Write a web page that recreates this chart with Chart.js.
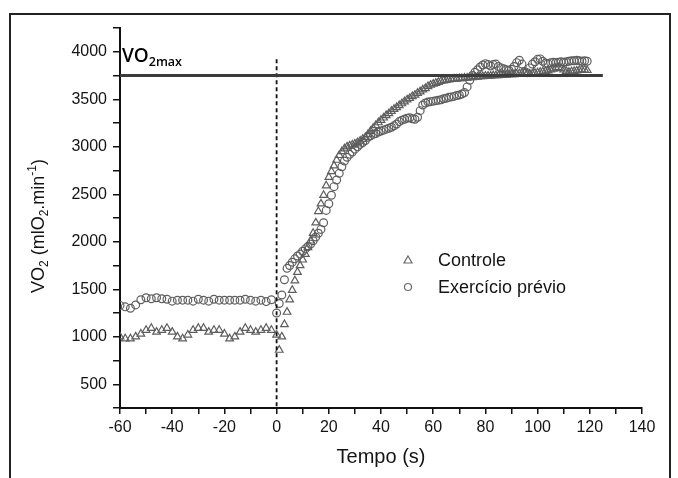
<!DOCTYPE html>
<html>
<head>
<meta charset="utf-8">
<script src="https://cdn.jsdelivr.net/npm/chart.js@4.4.0/dist/chart.umd.min.js"></script>
<style>
  html, body { margin: 0; padding: 0; background: #fff; }
  #wrap { position: relative; width: 678px; height: 478px; overflow: hidden; }
  #frame { position: absolute; left: 9px; top: 13px; width: 662px; height: 490px; border: 2px solid #222; box-sizing: border-box; }
  canvas { position: absolute; left: 0; top: 0; }
</style>
</head>
<body>
<div id="wrap">
  <div id="frame"></div>
  <canvas id="chart" width="678" height="478"></canvas>
</div>
<script>
// tempo (s) antes do exercício, amostras a cada 2 s
const tempoPre = [-60, -58, -56, -54, -52, -50, -48, -46, -44, -42, -40, -38, -36, -34, -32,
  -30, -28, -26, -24, -22, -20, -18, -16, -14, -12, -10, -8, -6, -4, -2];

// tempo (s) depois do início, amostras a cada 1 s
const tempoPos = [0, 1, 2, 3, 4, 5, 6, 7, 8, 9, 10, 11, 12, 13, 14, 15, 16, 17, 18, 19,
  20, 21, 22, 23, 24, 25, 26, 27, 28, 29, 30, 31, 32, 33, 34, 35, 36, 37, 38, 39,
  40, 41, 42, 43, 44, 45, 46, 47, 48, 49, 50, 51, 52, 53, 54, 55, 56, 57, 58, 59,
  60, 61, 62, 63, 64, 65, 66, 67, 68, 69, 70, 71, 72, 73, 74, 75, 76, 77, 78, 79,
  80, 81, 82, 83, 84, 85, 86, 87, 88, 89, 90, 91, 92, 93, 94, 95, 96, 97, 98, 99,
  100, 101, 102, 103, 104, 105, 106, 107, 108, 109, 110, 111, 112, 113, 114, 115, 116, 117, 118, 119];

// VO2 (mlO2.min-1)
const controlePre = [1000, 980, 980, 1000, 1030, 1070, 1090, 1050, 1070, 1090, 1050, 1000, 980, 1020, 1070,
  1090, 1090, 1050, 1070, 1070, 1030, 980, 1000, 1050, 1090, 1070, 1050, 1070, 1090, 1070];

const controlePos = [1020, 860, 1000, 1130, 1260, 1390, 1490, 1590, 1680, 1750,
  1810, 1870, 1940, 2010, 2090, 2200, 2320, 2400, 2490, 2590,
  2680, 2740, 2800, 2860, 2910, 2950, 2980, 3000, 3010, 3020,
  3030, 3045, 3060, 3080, 3100, 3130, 3165, 3195, 3225, 3255,
  3280, 3305, 3330, 3350, 3375, 3395, 3415, 3435, 3455, 3475,
  3495, 3510, 3530, 3545, 3565, 3580, 3600, 3615, 3635, 3650,
  3660, 3670, 3680, 3690, 3695, 3700, 3705, 3710, 3715, 3715,
  3720, 3720, 3725, 3725, 3730, 3730, 3735, 3735, 3740, 3740,
  3745, 3745, 3745, 3750, 3750, 3750, 3755, 3755, 3755, 3760,
  3760, 3760, 3765, 3770, 3775, 3780, 3770, 3765, 3770, 3775,
  3780, 3785, 3790, 3795, 3800, 3810, 3820, 3830, 3835, 3825,
  3810, 3795, 3785, 3790, 3795, 3800, 3805, 3810, 3810, 3805];

const previoPre = [1330, 1315, 1300, 1335, 1390, 1410, 1400, 1410, 1400, 1395, 1375, 1385, 1385, 1385, 1375,
  1395, 1385, 1375, 1395, 1385, 1385, 1385, 1385, 1385, 1395, 1385, 1375, 1385, 1370, 1390];

const previoPos = [1250, 1350, 1440, 1600, 1720, 1750, 1785, 1820, 1850, 1870,
  1900, 1925, 1950, 1975, 2010, 2050, 2090, 2130, 2200, 2330,
  2400, 2490, 2580, 2650, 2720, 2790, 2850, 2890, 2920, 2945,
  2975, 3000, 3025, 3045, 3065, 3100, 3115, 3130, 3140, 3155,
  3165, 3175, 3185, 3195, 3205, 3220, 3240, 3265, 3280, 3290,
  3300, 3305, 3295, 3290, 3310, 3380, 3440, 3460, 3470, 3475,
  3480, 3485, 3490, 3495, 3505, 3510, 3520, 3525, 3530, 3540,
  3545, 3555, 3570, 3630, 3700, 3750, 3785, 3810, 3840, 3860,
  3875, 3865, 3850, 3865, 3870, 3845, 3830, 3820, 3810, 3805,
  3815, 3845, 3885, 3910, 3870, 3790, 3780, 3830, 3870, 3895,
  3920, 3925, 3900, 3880, 3875, 3885, 3890, 3885, 3890, 3895,
  3890, 3895, 3900, 3905, 3905, 3910, 3905, 3900, 3905, 3900];

// linhas de referência
const vo2max = 3750;
const vo2maxTempo = [-60, 125];
const inicioTempo = 0;
const inicioLinha = [3920, 250];

const xTicks = { min: -60, max: 140, step: 10, label: 20 };
const yTicks = { min: 250, max: 4250, step: 250, label: 500 };

const serieLabels = ['Controle', 'Exercício prévio'];

function pontos(xs, ys) {
  return xs.map((x, i) => ({ x: x, y: ys[i] }));
}

const markerColor = '#5e5e5e';
const textColor = '#141414';
const sans = '"Liberation Sans", Arial, Helvetica, sans-serif';

const textPlugin = {
  id: 'textos',
  afterDraw(chart) {
    const ctx = chart.ctx;
    const xs = chart.scales.x, ys = chart.scales.y;
    const area = chart.chartArea;
    ctx.save();
    ctx.fillStyle = '#000';
    ctx.textBaseline = 'alphabetic';

    // VO2max
    const vx = xs.getPixelForValue(-60) + 2;
    const vy = ys.getPixelForValue(vo2max) - 14;
    ctx.font = '600 19px "Open Sans", sans-serif';
    ctx.textAlign = 'left';
    ctx.fillText('VO', vx, vy);
    const w = ctx.measureText('VO').width;
    ctx.font = '600 12.5px "Open Sans", sans-serif';
    ctx.fillText('2max', vx + w, vy + 4);

    // título do eixo y, com sub/sobrescritos
    const parts = [
      { t: 'VO', s: 0 }, { t: '2', s: 1 }, { t: ' (mlO', s: 0 }, { t: '2', s: 1 },
      { t: '.min', s: 0 }, { t: '-1', s: -1 }, { t: ')', s: 0 }
    ];
    const big = '18px ' + sans, small = '12px ' + sans;
    let total = 0;
    parts.forEach(p => { ctx.font = p.s ? small : big; p.w = ctx.measureText(p.t).width; total += p.w; });
    ctx.translate(38 + 6, (area.top + area.bottom) / 2 + 8);
    ctx.rotate(-Math.PI / 2);
    ctx.fillStyle = textColor;
    let cx = -total / 2;
    parts.forEach(p => {
      ctx.font = p.s ? small : big;
      const dy = p.s === 1 ? 4 : (p.s === -1 ? -8 : 0);
      ctx.fillText(p.t, cx, dy);
      cx += p.w;
    });
    ctx.restore();

    // legenda
    ctx.save();
    const lx = area.left + 288, ly1 = area.top + 232, ly2 = area.top + 259;
    ctx.strokeStyle = '#6a6a6a';
    ctx.lineWidth = 1.2;
    ctx.beginPath();
    ctx.moveTo(lx, ly1 - 4);
    ctx.lineTo(lx + 4, ly1 + 3);
    ctx.lineTo(lx - 4, ly1 + 3);
    ctx.closePath();
    ctx.stroke();
    ctx.beginPath();
    ctx.arc(lx, ly2, 3.5, 0, Math.PI * 2);
    ctx.stroke();
    ctx.fillStyle = textColor;
    ctx.font = '18px ' + sans;
    ctx.textAlign = 'left';
    ctx.textBaseline = 'middle';
    ctx.fillText(serieLabels[0], lx + 30, ly1 + 1);
    ctx.fillText(serieLabels[1], lx + 30, ly2 + 1);
    ctx.restore();
  }
};

const ctx = document.getElementById('chart').getContext('2d');
new Chart(ctx, {
  type: 'scatter',
  data: {
    datasets: [
      {
        label: 'VO2max',
        data: pontos(vo2maxTempo, [vo2max, vo2max]),
        showLine: true,
        borderColor: '#3c3c3c',
        borderWidth: 3,
        pointRadius: 0
      },
      {
        label: 'inicio',
        data: pontos([inicioTempo, inicioTempo], inicioLinha),
        showLine: true,
        borderColor: '#111',
        borderWidth: 1.8,
        borderDash: [4, 3],
        pointRadius: 0
      },
      {
        label: serieLabels[1],
        data: pontos(tempoPre, previoPre).concat(pontos(tempoPos, previoPos)),
        showLine: false,
        pointStyle: 'circle',
        pointRadius: 3.9,
        borderWidth: 1.2,
        borderColor: markerColor,
        backgroundColor: 'rgba(255,255,255,0)'
      },
      {
        label: serieLabels[0],
        data: pontos(tempoPre, controlePre).concat(pontos(tempoPos, controlePos)),
        showLine: false,
        pointStyle: 'triangle',
        pointRadius: 4.4,
        borderWidth: 1.2,
        borderColor: markerColor,
        backgroundColor: 'rgba(255,255,255,0)'
      }
    ]
  },
  options: {
    responsive: false,
    animation: false,
    layout: { padding: { left: 10, right: 36, top: 28, bottom: 0 } },
    plugins: { legend: { display: false }, tooltip: { enabled: false } },
    scales: {
      x: {
        type: 'linear',
        min: xTicks.min,
        max: xTicks.max,
        afterFit: function(scale) { scale.height = 70; },
        ticks: {
          stepSize: xTicks.step,
          autoSkip: false,
          maxRotation: 0,
          padding: 4,
          color: textColor,
          font: { family: sans, size: 16 },
          callback: function(value) {
            return value % xTicks.label === 0 ? value : '';
          }
        },
        grid: { drawOnChartArea: false, drawTicks: true, tickLength: 6, color: '#111', lineWidth: 1.5 },
        border: { display: true, color: '#111', width: 2 },
        title: {
          display: true,
          text: 'Tempo (s)',
          color: textColor,
          font: { family: sans, size: 20 },
          padding: { top: 0, bottom: 9 }
        }
      },
      y: {
        type: 'linear',
        min: yTicks.min,
        max: yTicks.max,
        afterFit: function(scale) { scale.width = 110; },
        ticks: {
          stepSize: yTicks.step,
          autoSkip: false,
          padding: 6,
          color: textColor,
          font: { family: sans, size: 16 },
          callback: function(value) {
            return (value % yTicks.label === 0 && value >= 500 && value <= 4000) ? value : '';
          }
        },
        grid: { drawOnChartArea: false, drawTicks: true, tickLength: 7, color: '#111', lineWidth: 1.5 },
        border: { display: true, color: '#111', width: 2 }
      }
    }
  },
  plugins: [textPlugin]
});
</script>
</body>
</html>
